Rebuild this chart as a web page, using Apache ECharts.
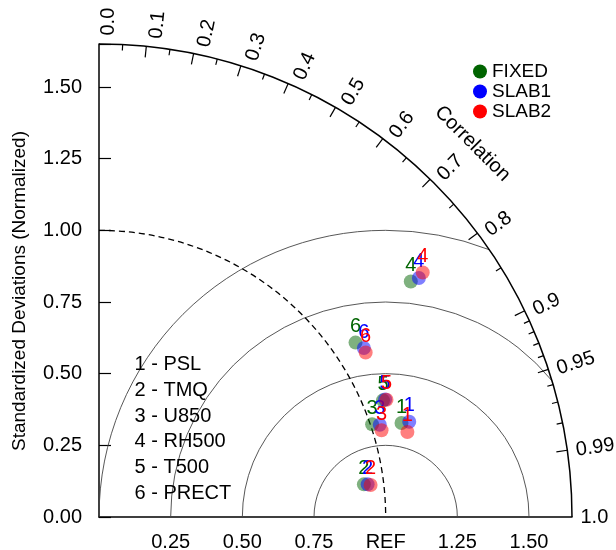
<!DOCTYPE html>
<html><head><meta charset="utf-8">
<script src="https://cdn.jsdelivr.net/npm/echarts@6/dist/echarts.min.js"></script>
<style>html,body{margin:0;padding:0;background:#fff}#c{width:616px;height:550px}</style>
</head><body><div id="c"></div>
<script>
// ---- data ----
const caseNames = ['PSL', 'TMQ', 'U850', 'RH500', 'T500', 'PRECT'];
const seriesNames = ['FIXED', 'SLAB1', 'SLAB2'];
const seriesColors = ['#006400', '#0000ff', '#ff0000'];
// normalized standard deviation ratio and correlation, per case
const fixedRatio = [1.105, 0.931, 1.006, 1.363, 1.071, 1.082];
const fixedCorr  = [0.955, 0.9925, 0.947, 0.798, 0.925, 0.827];
const slab1Ratio = [1.132, 0.944, 1.031, 1.393, 1.079, 1.096];
const slab1Corr  = [0.956, 0.9927, 0.950, 0.801, 0.925, 0.843];
const slab2Ratio = [1.116, 0.954, 1.031, 1.415, 1.083, 1.093];
const slab2Corr  = [0.964, 0.9931, 0.956, 0.798, 0.926, 0.851];
const maxStd = 1.65;
const stdInterval = 0.25;
const corrMajor = [0.1, 0.2, 0.3, 0.4, 0.5, 0.6, 0.7, 0.8, 0.9, 0.95, 0.99];
const corrMinor = [0.05, 0.15, 0.25, 0.35, 0.45, 0.55, 0.65, 0.75, 0.85, 0.91, 0.92, 0.93, 0.94, 0.96, 0.97, 0.98];
const corrLabelVals = [0.0, 0.1, 0.2, 0.3, 0.4, 0.5, 0.6, 0.7, 0.8, 0.9, 0.95, 0.99, 1.0];
const corrLabelText = ['0.0', '0.1', '0.2', '0.3', '0.4', '0.5', '0.6', '0.7', '0.8', '0.9', '0.95', '0.99', '1.0'];
const rmsRadii = [0.25, 0.5, 0.75, 1.0];
const refStd = 1.0;

const FONT = '"Liberation Sans", Arial, Helvetica, sans-serif';
const chart = echarts.init(document.getElementById('c'), null, {renderer: 'canvas'});

function renderFrame(params, api) {
  const s = api.size([1, 0])[0];
  const o = api.coord([0, 0]);
  const P = (r, th) => api.coord([r * Math.cos(th), r * Math.sin(th)]);
  const ch = [];
  // RMS difference arcs centered on REF
  const c = api.coord([refStd, 0]);
  rmsRadii.forEach(R => {
    const cosMin = (maxStd * maxStd - refStd * refStd - R * R) / (2 * R * refStd);
    const phiMin = cosMin >= 1 ? 0 : Math.acos(cosMin);
    ch.push({type: 'arc', shape: {cx: c[0], cy: c[1], r: R * s, startAngle: -Math.PI, endAngle: -phiMin, clockwise: true},
      style: {stroke: '#444', lineWidth: 0.9, fill: null}, silent: true});
  });
  // reference std arc (dashed)
  ch.push({type: 'arc', shape: {cx: o[0], cy: o[1], r: refStd * s, startAngle: -Math.PI / 2, endAngle: 0, clockwise: true},
    style: {stroke: '#000', lineWidth: 1.3, lineDash: [6, 4], fill: null}, silent: true});
  // outer arc
  ch.push({type: 'arc', shape: {cx: o[0], cy: o[1], r: maxStd * s, startAngle: -Math.PI / 2, endAngle: 0, clockwise: true},
    style: {stroke: '#000', lineWidth: 1.5, fill: null}, silent: true});
  // ticks
  const tick = (v, len) => {
    const th = Math.acos(v);
    const a = P(maxStd, th), b = P(maxStd - len / s, th);
    ch.push({type: 'line', shape: {x1: a[0], y1: a[1], x2: b[0], y2: b[1]}, style: {stroke: '#000', lineWidth: 1.2}, silent: true});
  };
  corrMajor.forEach(v => tick(v, 11));
  corrMinor.forEach(v => tick(v, 6));
  // correlation labels
  corrLabelVals.forEach((v, i) => {
    const th = Math.acos(v);
    const a = P(maxStd, th);
    ch.push({type: 'text', x: a[0], y: a[1], rotation: th, silent: true,
      style: {text: corrLabelText[i], x: 8.5, y: 9 * Math.sin(th), align: 'left', verticalAlign: 'middle', font: '20px ' + FONT, fill: '#000'}});
  });
  // "Correlation" title along the arc
  const t = P(1.842, Math.PI / 4);
  ch.push({type: 'text', x: t[0], y: t[1], rotation: -Math.PI / 4, silent: true,
    style: {text: 'Correlation', align: 'center', verticalAlign: 'middle', font: '20px ' + FONT, fill: '#000'}});
  // case name list
  caseNames.forEach((n, i) => {
    const p = api.coord([0.124, 0.531 - i * 0.0895]);
    ch.push({type: 'text', x: p[0], y: p[1], silent: true,
      style: {text: (i + 1) + ' - ' + n, align: 'left', verticalAlign: 'middle', font: '20px ' + FONT, fill: '#000'}});
  });
  return {type: 'group', children: ch};
}

const groups = [[fixedRatio, fixedCorr], [slab1Ratio, slab1Corr], [slab2Ratio, slab2Corr]];
const scatterSeries = groups.map((g, k) => ({
  type: 'scatter', name: seriesNames[k], symbol: 'circle', symbolSize: 14, z: 3 + k,
  itemStyle: {color: seriesColors[k], opacity: 0.5},
  label: {show: true, position: 'inside', offset: [0, -16], formatter: p => String(p.dataIndex + 1),
    color: seriesColors[k], opacity: 1, fontSize: 20, fontFamily: FONT},
  emphasis: {disabled: true},
  data: g[0].map((r, i) => { const cc = g[1][i]; return [r * cc, r * Math.sqrt(1 - cc * cc)]; })
}));

const isTick = v => Math.abs(v / stdInterval - Math.round(v / stdInterval)) < 1e-6;

chart.setOption({
  animation: false,
  backgroundColor: '#fff',
  grid: {left: 99, top: 44, width: 473, height: 473, containLabel: false, outerBoundsMode: 'none'},
  xAxis: {type: 'value', min: 0, max: maxStd, interval: stdInterval,
    axisLine: {show: true, onZero: false, lineStyle: {color: '#000', width: 1.5}},
    axisTick: {show: false}, splitLine: {show: false},
    axisLabel: {margin: 15, color: '#000', fontSize: 20, fontFamily: FONT,
      formatter: v => (v === 0 || !isTick(v)) ? '' : (Math.abs(v - refStd) < 1e-6 ? 'REF' : v.toFixed(2))}},
  yAxis: {type: 'value', min: 0, max: maxStd, interval: stdInterval,
    axisLine: {show: true, onZero: false, lineStyle: {color: '#000', width: 1.5}},
    axisTick: {show: true, inside: true, length: 12, lineStyle: {color: '#000', width: 1.2}},
    splitLine: {show: false},
    axisLabel: {margin: 17, color: '#000', fontSize: 20, fontFamily: FONT,
      formatter: v => isTick(v) ? v.toFixed(2) : ''}},
  legend: {orient: 'vertical', left: 468, top: 57, itemWidth: 14, itemHeight: 14, itemGap: 1, selectedMode: false,
    textStyle: {fontSize: 19, fontFamily: FONT, color: '#000'},
    data: seriesNames.map((n, i) => ({name: n, icon: 'circle', itemStyle: {color: seriesColors[i], opacity: 1}}))},
  graphic: [{type: 'text', x: 20, y: 291, rotation: Math.PI / 2, silent: true,
    style: {text: 'Standardized Deviations (Normalized)', align: 'center', verticalAlign: 'middle', font: '19px ' + FONT, fill: '#000'}}],
  series: [{type: 'custom', renderItem: renderFrame, data: [[0, 0]], z: 1, silent: true, clip: false}].concat(scatterSeries)
});
</script></body></html>
